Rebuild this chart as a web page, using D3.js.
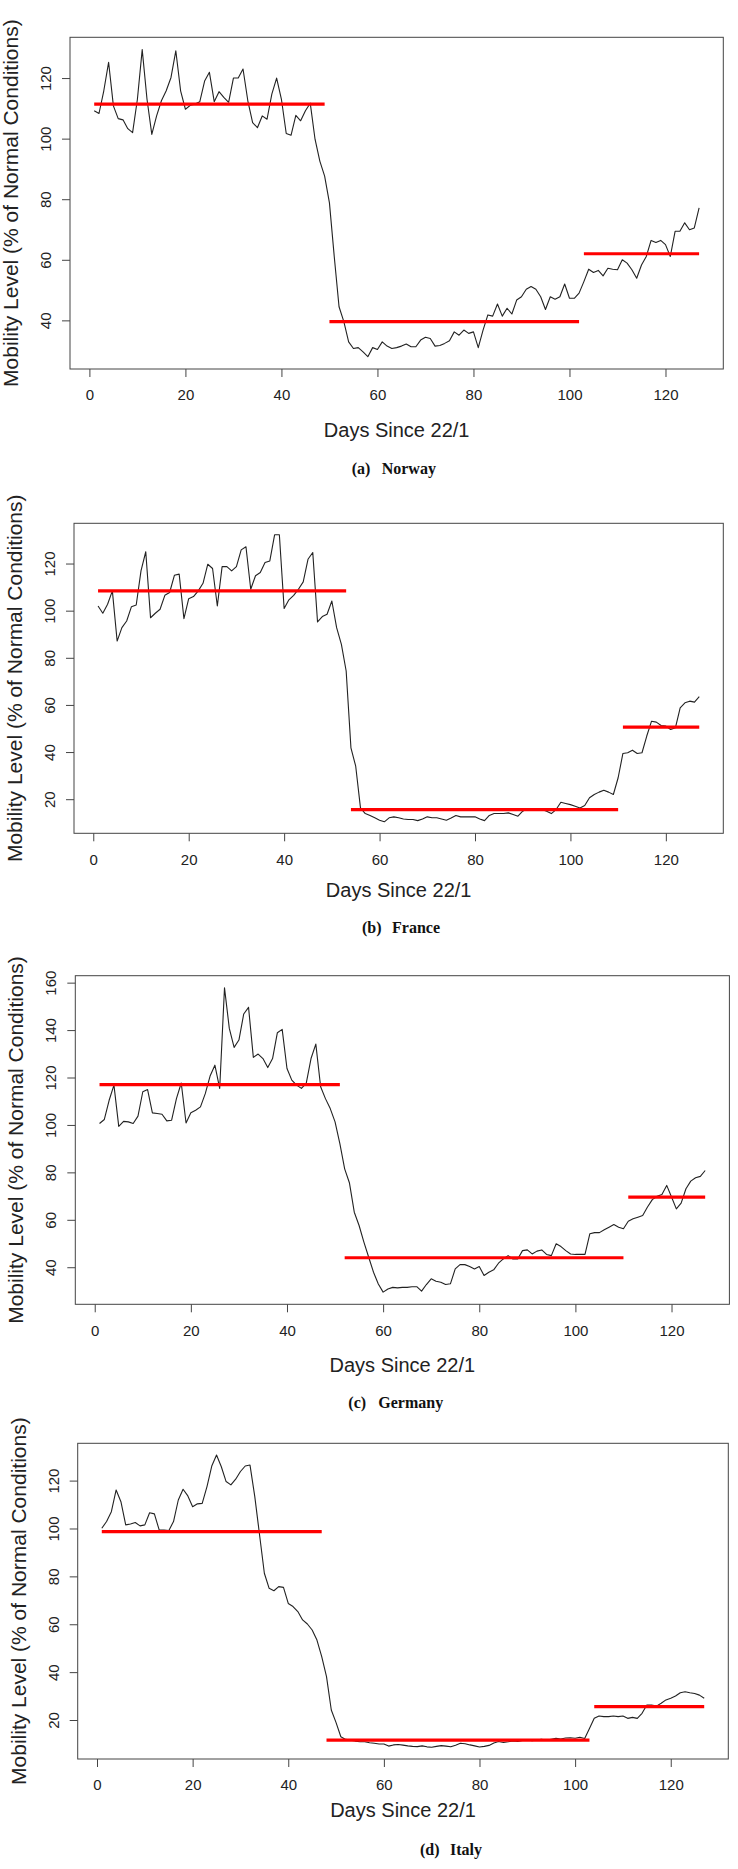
<!DOCTYPE html>
<html><head><meta charset="utf-8">
<script src="https://cdn.jsdelivr.net/npm/d3@7"></script>
<style>body{margin:0;background:#fff} svg{display:block}</style>
</head><body><svg id="chart" width="738" height="1869"></svg>
<script>
// ---------- DATA ----------
const days = d3.range(1, 128);
const xTickValues = [0, 20, 40, 60, 80, 100, 120];
const xTitle = "Days Since 22/1";
const yTitle = "Mobility Level (% of Normal Conditions)";

const norwayValues = [109.2,108.3,115.8,125.2,110.8,106.6,106.2,103.3,102,113,129.4,113,101.4,107.5,112.5,115.8,120.2,129,115.8,109.7,
111,111.4,112.2,119,121.9,112.2,115.5,113.6,112,120,120,123,112.5,105.3,103.6,107.5,106.4,114.7,120,113,
101.7,101.1,107.7,105.9,109.2,111.7,99.8,92.6,87.6,78.8,61.1,44.5,39.6,32.9,30.7,31,29.6,28,31,30.4,
32.9,31.5,30.7,31,31.5,32.2,31.3,31.3,33.5,34.4,34,31.5,31.7,32.4,33.3,36.2,35.1,36.8,35.7,36.2,
31,36.8,41.8,41.4,45.4,41.4,44,42.1,46.7,47.8,50.3,51.2,50.3,47.8,43.6,47.8,47,47.8,52,47.3,
47.3,49,52.8,56.9,55.8,56.5,54.7,57.2,56.9,56.7,60,58.9,56.7,53.9,58.3,61.1,66.4,65.7,66.4,65,
61.1,69.4,69.4,72.2,69.9,70.5,77.1];
const norwayYTicks = [40, 60, 80, 100, 120];
const norwaySegStart = [1, 50, 103];
const norwaySegEnd = [49, 102, 127];
const norwaySegLevel = [111.4, 39.6, 62];

const franceValues = [102,98.9,102.7,108.4,87.1,92.8,95.6,101.7,102.4,116.9,125,97,98.9,100.6,106.5,107.7,115,115.5,96.6,105.1,
106,108.4,111.6,119.7,117.9,102,118.7,118.7,116.9,118.7,125.8,127.1,109.1,114.8,116.2,120.4,121.1,132.2,132.2,100.9,
104.6,106.5,109.1,112.2,121.8,124.7,95.2,97.5,98.5,104.1,92.8,85.7,74.4,41.8,34,16.3,13.9,13.1,12.1,11.1,
10.4,12.1,12.5,12.1,11.6,11.4,11.4,10.9,11.6,12.5,12.1,12.1,11.6,11.1,12,13.1,12.5,12.5,12.5,12.5,
11.6,10.9,13.1,13.9,13.9,13.9,14.2,13.5,12.8,14.9,15.9,15.9,15.9,15.6,14.9,13.9,15.6,18.7,18.2,17.7,
17,16.3,17.3,20.6,22,23,23.8,23,22,29.1,39.4,39.7,40.8,39.4,39.7,46.8,53.1,52.7,51.3,51,
49.6,50.3,58.8,60.9,61.6,61.2,63.5];
const franceYTicks = [20, 40, 60, 80, 100, 120];
const franceSegStart = [1, 54, 111];
const franceSegEnd = [53, 110, 127];
const franceSegLevel = [108.4, 15.6, 50.6];

const germanyValues = [100.6,102.3,110.4,116.8,99.4,101.5,101.3,100.6,103.7,114,114.9,105.1,104.8,104.5,101.7,102,111.1,117.7,100.8,105.1,
106.2,107.6,113.2,120.6,125.2,115.4,157.8,140.7,132.7,135.8,146.8,149.6,128.5,129.9,128,124.2,128,138.9,140.3,123.8,
118.9,116.8,115.4,117.5,128,134.1,116.1,111.1,106.9,101.3,92.1,81.5,75.5,63.2,57.6,50.6,44.2,37.9,32.9,29.5,
30.8,31.5,31.3,31.5,31.5,31.8,31.8,29.9,32.7,35.1,34.1,33.7,32.7,33,39.3,41.1,41.1,40.3,39.3,40.3,
36.5,37.9,38.9,41.7,43.5,44.9,43.5,43.5,47,47.3,45.6,46.8,47.3,45.4,44.9,49.9,48.7,47,45.6,45.4,
45.4,45.4,54.1,54.6,54.6,55.8,56.9,58,56.9,56.2,59.4,60.4,61.1,61.8,65.4,68.5,69.9,70.7,74.5,69.6,
64.6,67,73.1,76.3,77.7,78.3,80.8];
const germanyYTicks = [40, 60, 80, 100, 120, 140, 160];
const germanySegStart = [1, 52, 111];
const germanySegEnd = [51, 110, 127];
const germanySegLevel = [117, 44, 69.6];

const italyValues = [100.1,102.9,107,116.1,111.2,101.5,101.9,102.5,101.1,101.5,106.6,106.1,99.4,99.4,99.1,102.9,111.9,116.4,113.6,109.1,
110.3,110.5,117.5,126.1,130.7,125.8,119.6,118.2,120.6,123.8,126.1,126.5,113.3,97.3,81.3,75,74,75.7,75.4,68.7,
67.4,65.3,61.8,60.1,57.6,53.4,46.5,38.1,24.2,18.9,13,11.9,11.6,11.2,10.9,10.9,10.5,10.3,10,10,
9.1,9.6,9.8,9.5,9.2,9,8.9,9.2,8.8,8.6,9,9.3,9.1,8.8,9.5,10.3,10.1,9.6,9.2,8.7,
9,9.4,10.4,11,10.6,10.9,11.3,11,11.5,11.8,11.4,11.7,11.9,11.5,12,12.4,12.1,12.5,12.6,12.4,
12.8,12.3,16.5,20.7,21.7,21.4,21.4,21.7,21.4,21.7,20.7,21.1,20.7,22.8,26.3,26.3,25.8,27,28.4,29.1,
30,31.4,31.8,31.4,31.1,30.4,29.1];
const italyYTicks = [20, 40, 60, 80, 100, 120];
const italySegStart = [1, 48, 104];
const italySegEnd = [47, 103, 127];
const italySegLevel = [98.7, 11.6, 25.6];

// ---------- LAYOUT ----------
const panels = [
  {letter: "(a)", name: "Norway", values: norwayValues, yTicks: norwayYTicks,
   segStart: norwaySegStart, segEnd: norwaySegEnd, segLevel: norwaySegLevel,
   box: {left: 70, right: 723.3, top: 37.3, bottom: 369}, titleOff: 67.5, capOff: 105, capX: 351.7},
  {letter: "(b)", name: "France", values: franceValues, yTicks: franceYTicks,
   segStart: franceSegStart, segEnd: franceSegEnd, segLevel: franceSegLevel,
   box: {left: 74, right: 723.3, top: 523.3, bottom: 833.3}, titleOff: 63.5, capOff: 100, capX: 362},
  {letter: "(c)", name: "Germany", values: germanyValues, yTicks: germanyYTicks,
   segStart: germanySegStart, segEnd: germanySegEnd, segLevel: germanySegLevel,
   box: {left: 75.3, right: 729.4, top: 975.7, bottom: 1304.3}, titleOff: 67.4, capOff: 104, capX: 348.3},
  {letter: "(d)", name: "Italy", values: italyValues, yTicks: italyYTicks,
   segStart: italySegStart, segEnd: italySegEnd, segLevel: italySegLevel,
   box: {left: 77.7, right: 728.3, top: 1443.3, bottom: 1759}, titleOff: 58, capOff: 96, capX: 420}
];

const svg = d3.select("#chart");
svg.append("rect").attr("width", 738).attr("height", 1869).attr("fill", "#fff");

const sansFont = "'Liberation Sans', Arial, sans-serif";
const serifFont = "'Liberation Serif', 'Times New Roman', serif";
const tickFs = 15;

function rPad(ext) { const r = ext[1] - ext[0]; return [ext[0] - 0.04 * r, ext[1] + 0.04 * r]; }

panels.forEach(p => {
  const b = p.box;
  const x = d3.scaleLinear().domain(rPad(d3.extent(days))).range([b.left, b.right]);
  const y = d3.scaleLinear().domain(rPad(d3.extent(p.values))).range([b.bottom, b.top]);
  const g = svg.append("g");

  // x axis
  const xa = g.append("g").attr("transform", `translate(0,${b.bottom})`)
    .call(d3.axisBottom(x).tickValues(xTickValues).tickSize(8).tickPadding(12.8).tickFormat(d3.format("d")));
  xa.select(".domain").remove();
  xa.selectAll("line").attr("stroke", "#444");
  xa.selectAll("text").attr("font-family", sansFont).attr("font-size", tickFs).attr("fill", "#222");

  // y axis
  const ya = g.append("g").attr("transform", `translate(${b.left},0)`)
    .call(d3.axisLeft(y).tickValues(p.yTicks).tickSize(8).tickFormat(d3.format("d")));
  ya.select(".domain").remove();
  ya.selectAll("line").attr("stroke", "#444");
  ya.selectAll("text")
    .attr("x", 0).attr("y", 0).attr("dy", 0)
    .attr("text-anchor", "middle")
    .attr("transform", `translate(${-24.5 + 0.358 * tickFs},0) rotate(-90)`)
    .attr("font-family", sansFont).attr("font-size", tickFs).attr("fill", "#222");

  // box
  g.append("rect").attr("x", b.left).attr("y", b.top)
    .attr("width", b.right - b.left).attr("height", b.bottom - b.top)
    .attr("fill", "none").attr("stroke", "#444").attr("stroke-width", 1);

  // data line
  const line = d3.line().x((d, i) => x(days[i])).y(d => y(d));
  g.append("path").datum(p.values).attr("d", line)
    .attr("fill", "none").attr("stroke", "#222").attr("stroke-width", 1.1)
    .attr("stroke-linejoin", "round");

  // mean segments
  g.selectAll(".seg").data(p.segLevel).enter().append("line")
    .attr("x1", (d, i) => x(p.segStart[i])).attr("x2", (d, i) => x(p.segEnd[i]))
    .attr("y1", d => y(d)).attr("y2", d => y(d))
    .attr("stroke", "#ff0000").attr("stroke-width", 3.2);

  // titles
  g.append("text").attr("x", (b.left + b.right) / 2).attr("y", b.bottom + p.titleOff)
    .attr("text-anchor", "middle").attr("font-family", sansFont).attr("font-size", 20)
    .attr("fill", "#222").text(xTitle);
  g.append("text")
    .attr("transform", `translate(${b.left - 52},${(b.top + b.bottom) / 2}) rotate(-90)`)
    .attr("text-anchor", "middle").attr("font-family", sansFont).attr("font-size", 21)
    .attr("fill", "#222").text(yTitle);

  // caption
  const cap = g.append("text").attr("y", b.bottom + p.capOff)
    .attr("font-family", serifFont).attr("font-weight", "bold").attr("font-size", 16).attr("fill", "#111");
  cap.append("tspan").attr("x", p.capX).text(p.letter);
  cap.append("tspan").attr("x", p.capX + 30).text(p.name);
});
</script></body></html>
